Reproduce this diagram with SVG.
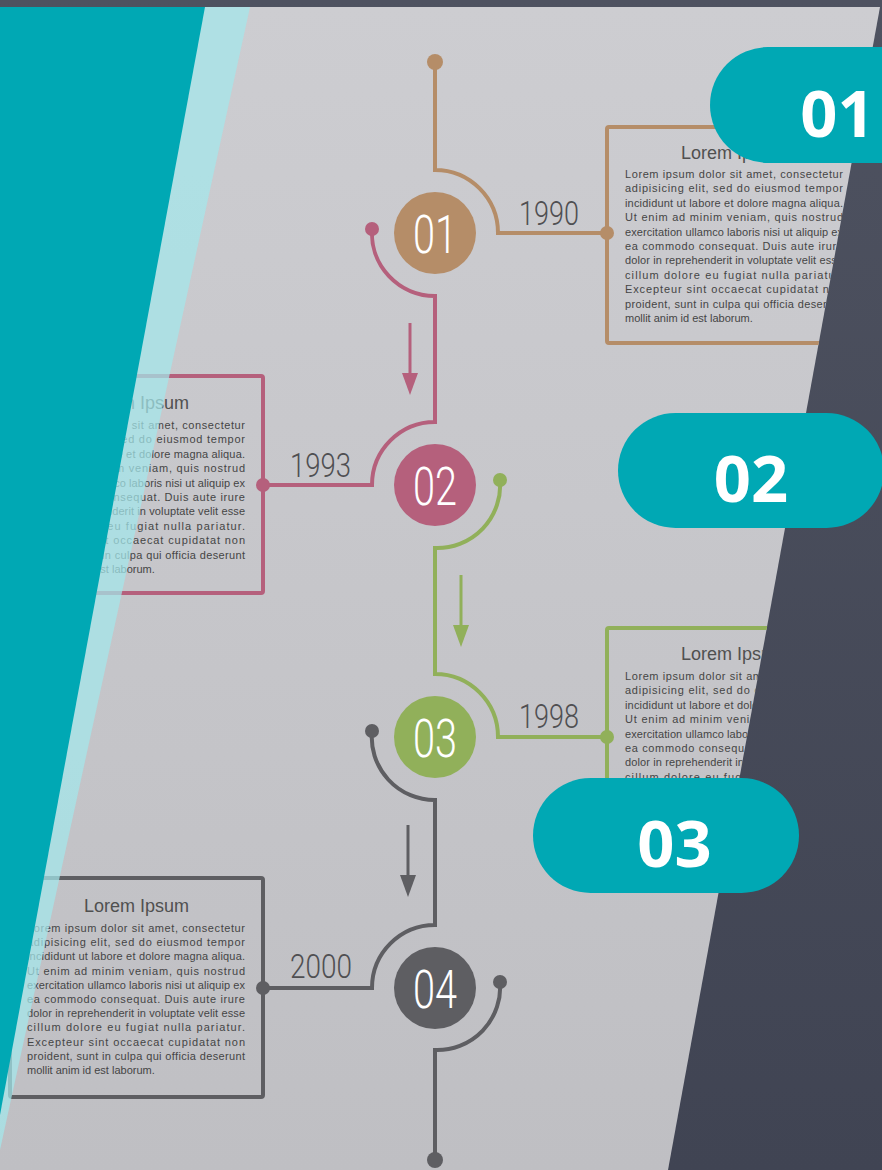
<svg xmlns="http://www.w3.org/2000/svg" width="882" height="1170" viewBox="0 0 882 1170">
<defs>
<linearGradient id="bgDark" x1="0" y1="0" x2="0" y2="1">
<stop offset="0" stop-color="#4e5260"/>
<stop offset="1" stop-color="#404453"/>
</linearGradient>
<linearGradient id="bgGray" x1="0" y1="0" x2="0" y2="1">
<stop offset="0" stop-color="#cdcdd1"/>
<stop offset="1" stop-color="#bfbfc3"/>
</linearGradient>
<clipPath id="slideClip"><polygon points="0,7 880,7 668,1170 0,1170"/></clipPath>
<style>
.box{fill:none;stroke-width:4;stroke-linejoin:round}
.title{font-family:"Liberation Sans",Arial,sans-serif;font-size:18px;fill:#505050;text-anchor:middle}
.body{font-family:"Liberation Sans",Arial,sans-serif;font-size:11px;fill:#454545}
.year{font-family:Roboto,"Liberation Sans",sans-serif;font-weight:300;font-size:34px;fill:#4f4f52}
.num{font-family:Roboto,"Liberation Sans",sans-serif;font-weight:300;font-size:54px;fill:#ffffff;text-anchor:middle}
.pill{fill:#00a8b4}
.pilltxt{font-family:"Open Sans","Liberation Sans",sans-serif;font-weight:700;font-size:65px;fill:#ffffff;text-anchor:middle}
.line{fill:none;stroke-width:4}
.brown{stroke:#b58d68}.brownf{fill:#b58d68}
.pink{stroke:#b5607c}.pinkf{fill:#b5607c}
.green{stroke:#91b05a}.greenf{fill:#91b05a}
.gray{stroke:#5e5e62}.grayf{fill:#5e5e62}
</style>
</defs>

<rect x="0" y="0" width="882" height="1170" fill="url(#bgDark)"/>
<polygon points="0,7 880,7 668,1170 0,1170" fill="url(#bgGray)"/>

<g clip-path="url(#slideClip)">
<g id="connectors">
<path class="line brown" d="M435,62 V170 A63,63 0 0 1 498,233 H607"/>
<circle class="brownf" cx="435" cy="62" r="8"/>
<circle class="brownf" cx="607" cy="233" r="7"/>
<path class="line pink" d="M372,229 A63,63 0 0 0 435,296 V422 A63,63 0 0 0 372,485 H263"/>
<circle class="pinkf" cx="372" cy="229" r="7"/>
<circle class="pinkf" cx="263" cy="485" r="7"/>
<path class="line green" d="M500,480 A63,63 0 0 1 435,548 V674 A63,63 0 0 1 498,737 H607"/>
<circle class="greenf" cx="500" cy="480" r="7"/>
<circle class="greenf" cx="607" cy="737" r="7"/>
<path class="line gray" d="M372,731 A63,63 0 0 0 435,800 V925 A63,63 0 0 0 372,988 H263"/>
<circle class="grayf" cx="372" cy="731" r="7"/>
<circle class="grayf" cx="263" cy="988" r="7"/>
<path class="line gray" d="M500,982 A63,63 0 0 1 435,1050 V1160"/>
<circle class="grayf" cx="500" cy="982" r="7"/>
<circle class="grayf" cx="435" cy="1160" r="8"/>
<line class="pink" x1="410" y1="323" x2="410" y2="380" stroke-width="3"/>
<polygon class="pinkf" points="402,373 418,373 410,395"/>
<line class="green" x1="461" y1="575" x2="461" y2="632" stroke-width="3"/>
<polygon class="greenf" points="453,625 469,625 461,647"/>
<line class="gray" x1="408" y1="825" x2="408" y2="882" stroke-width="3"/>
<polygon class="grayf" points="400,875 416,875 408,897"/>
</g>

<g id="node-01">
<circle class="brownf" cx="435" cy="233" r="41"/>
<text class="num" x="435" y="253" textLength="44" lengthAdjust="spacingAndGlyphs">01</text>
</g>
<g id="node-02">
<circle class="pinkf" cx="435" cy="485" r="41"/>
<text class="num" x="435" y="505" textLength="44" lengthAdjust="spacingAndGlyphs">02</text>
</g>
<g id="node-03">
<circle class="greenf" cx="435" cy="737" r="41"/>
<text class="num" x="435" y="757" textLength="44" lengthAdjust="spacingAndGlyphs">03</text>
</g>
<g id="node-04">
<circle class="grayf" cx="435" cy="988" r="41"/>
<text class="num" x="435" y="1008" textLength="44" lengthAdjust="spacingAndGlyphs">04</text>
</g>

<g id="year-1990"><text class="year" x="519" y="225" textLength="60" lengthAdjust="spacingAndGlyphs">1990</text></g>
<g id="year-1993"><text class="year" x="290" y="477" textLength="61" lengthAdjust="spacingAndGlyphs">1993</text></g>
<g id="year-1998"><text class="year" x="519" y="728" textLength="60" lengthAdjust="spacingAndGlyphs">1998</text></g>
<g id="year-2000"><text class="year" x="290" y="978" textLength="62" lengthAdjust="spacingAndGlyphs">2000</text></g>

<g id="box-1990">
<rect class="box brown" x="607" y="127" width="253" height="216" rx="2"/>
<text class="title" x="733.5" y="159">Lorem Ipsum</text>
<text class="body" x="625" y="178" textLength="218" lengthAdjust="spacing">Lorem ipsum dolor sit amet, consectetur</text>
<text class="body" x="625" y="192.4" textLength="218" lengthAdjust="spacing">adipisicing elit, sed do eiusmod tempor</text>
<text class="body" x="625" y="206.8" textLength="218" lengthAdjust="spacing">incididunt ut labore et dolore magna aliqua.</text>
<text class="body" x="625" y="221.2" textLength="218" lengthAdjust="spacing">Ut enim ad minim veniam, quis nostrud</text>
<text class="body" x="625" y="235.6" textLength="218" lengthAdjust="spacing">exercitation ullamco laboris nisi ut aliquip ex</text>
<text class="body" x="625" y="250" textLength="218" lengthAdjust="spacing">ea commodo consequat. Duis aute irure</text>
<text class="body" x="625" y="264.4" textLength="218" lengthAdjust="spacing">dolor in reprehenderit in voluptate velit esse</text>
<text class="body" x="625" y="278.8" textLength="218" lengthAdjust="spacing">cillum dolore eu fugiat nulla pariatur.</text>
<text class="body" x="625" y="293.2" textLength="218" lengthAdjust="spacing">Excepteur sint occaecat cupidatat non</text>
<text class="body" x="625" y="307.6" textLength="218" lengthAdjust="spacing">proident, sunt in culpa qui officia deserunt</text>
<text class="body" x="625" y="322">mollit anim id est laborum.</text>
</g>

<g id="box-1993">
<rect class="box pink" x="10" y="376" width="253" height="217" rx="2"/>
<text class="title" x="136.5" y="409">Lorem Ipsum</text>
<text class="body" x="27" y="429" textLength="218" lengthAdjust="spacing">Lorem ipsum dolor sit amet, consectetur</text>
<text class="body" x="27" y="443.4" textLength="218" lengthAdjust="spacing">adipisicing elit, sed do eiusmod tempor</text>
<text class="body" x="27" y="457.8" textLength="218" lengthAdjust="spacing">incididunt ut labore et dolore magna aliqua.</text>
<text class="body" x="27" y="472.2" textLength="218" lengthAdjust="spacing">Ut enim ad minim veniam, quis nostrud</text>
<text class="body" x="27" y="486.6" textLength="218" lengthAdjust="spacing">exercitation ullamco laboris nisi ut aliquip ex</text>
<text class="body" x="27" y="501" textLength="218" lengthAdjust="spacing">ea commodo consequat. Duis aute irure</text>
<text class="body" x="27" y="515.4" textLength="218" lengthAdjust="spacing">dolor in reprehenderit in voluptate velit esse</text>
<text class="body" x="27" y="529.8" textLength="218" lengthAdjust="spacing">cillum dolore eu fugiat nulla pariatur.</text>
<text class="body" x="27" y="544.2" textLength="218" lengthAdjust="spacing">Excepteur sint occaecat cupidatat non</text>
<text class="body" x="27" y="558.6" textLength="218" lengthAdjust="spacing">proident, sunt in culpa qui officia deserunt</text>
<text class="body" x="27" y="573">mollit anim id est laborum.</text>
</g>

<g id="box-1998">
<rect class="box green" x="607" y="628" width="253" height="217" rx="2"/>
<text class="title" x="733.5" y="660">Lorem Ipsum</text>
<text class="body" x="625" y="680" textLength="218" lengthAdjust="spacing">Lorem ipsum dolor sit amet, consectetur</text>
<text class="body" x="625" y="694.4" textLength="218" lengthAdjust="spacing">adipisicing elit, sed do eiusmod tempor</text>
<text class="body" x="625" y="708.8" textLength="218" lengthAdjust="spacing">incididunt ut labore et dolore magna aliqua.</text>
<text class="body" x="625" y="723.2" textLength="218" lengthAdjust="spacing">Ut enim ad minim veniam, quis nostrud</text>
<text class="body" x="625" y="737.6" textLength="218" lengthAdjust="spacing">exercitation ullamco laboris nisi ut aliquip ex</text>
<text class="body" x="625" y="752" textLength="218" lengthAdjust="spacing">ea commodo consequat. Duis aute irure</text>
<text class="body" x="625" y="766.4" textLength="218" lengthAdjust="spacing">dolor in reprehenderit in voluptate velit esse</text>
<text class="body" x="625" y="780.8" textLength="218" lengthAdjust="spacing">cillum dolore eu fugiat nulla pariatur.</text>
</g>

<g id="box-2000">
<rect class="box gray" x="10" y="878" width="253" height="219" rx="2"/>
<text class="title" x="136.5" y="912">Lorem Ipsum</text>
<text class="body" x="27" y="932" textLength="218" lengthAdjust="spacing">Lorem ipsum dolor sit amet, consectetur</text>
<text class="body" x="27" y="946.2" textLength="218" lengthAdjust="spacing">adipisicing elit, sed do eiusmod tempor</text>
<text class="body" x="27" y="960.4" textLength="218" lengthAdjust="spacing">incididunt ut labore et dolore magna aliqua.</text>
<text class="body" x="27" y="974.6" textLength="218" lengthAdjust="spacing">Ut enim ad minim veniam, quis nostrud</text>
<text class="body" x="27" y="988.8" textLength="218" lengthAdjust="spacing">exercitation ullamco laboris nisi ut aliquip ex</text>
<text class="body" x="27" y="1003" textLength="218" lengthAdjust="spacing">ea commodo consequat. Duis aute irure</text>
<text class="body" x="27" y="1017.2" textLength="218" lengthAdjust="spacing">dolor in reprehenderit in voluptate velit esse</text>
<text class="body" x="27" y="1031.4" textLength="218" lengthAdjust="spacing">cillum dolore eu fugiat nulla pariatur.</text>
<text class="body" x="27" y="1045.6" textLength="218" lengthAdjust="spacing">Excepteur sint occaecat cupidatat non</text>
<text class="body" x="27" y="1059.8" textLength="218" lengthAdjust="spacing">proident, sunt in culpa qui officia deserunt</text>
<text class="body" x="27" y="1074">mollit anim id est laborum.</text>
</g>
</g>

<g id="teal-shapes">
<polygon points="0,7 250,7 0,1150" fill="#a3e7eb" fill-opacity="0.72"/>
<polygon points="0,7 205,7 0,1115" fill="#00a8b4"/>
</g>

<g id="pill-01">
<rect class="pill" x="710" y="47" width="266" height="116" rx="58"/>
<text class="pilltxt" x="837.5" y="137">01</text>
</g>
<g id="pill-02">
<rect class="pill" x="618" y="413" width="266" height="115" rx="57.5"/>
<text class="pilltxt" x="751" y="502">02</text>
</g>
<g id="pill-03">
<rect class="pill" x="533" y="778" width="266" height="115" rx="57.5"/>
<text class="pilltxt" x="674.5" y="867">03</text>
</g>
</svg>
